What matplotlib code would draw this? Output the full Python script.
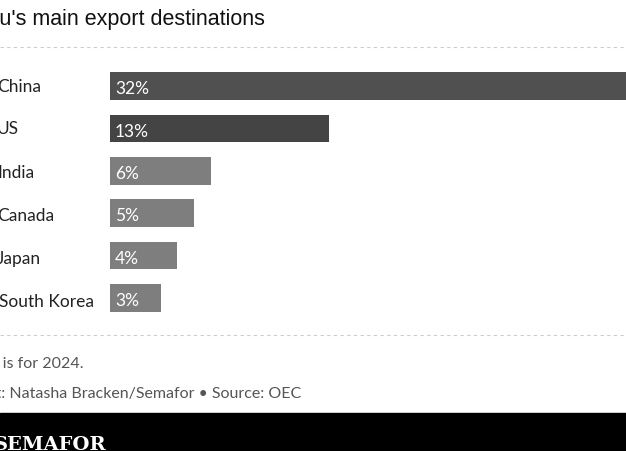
import matplotlib.pyplot as plt

countries = ["China", "US", "India", "Canada", "Japan", "South Korea"]
shares = [32, 13, 6, 5, 4, 3]
colors = ["#505050", "#444444", "#7e7e7e", "#7e7e7e", "#7e7e7e", "#7e7e7e"]

W, H = 626, 452
fig = plt.figure(figsize=(W / 100, H / 100), dpi=100)
fig.patch.set_facecolor("white")

def fx(px):
    return px / W

def fy(py):
    return 1 - py / H

# plot area in pixel coords: x 110..626, y 66..320
ax = fig.add_axes([fx(110), fy(320), fx(516), (320 - 66) / H])
ax.barh(range(len(shares)), shares, color=colors, height=0.66)
ax.set_xlim(0, 516 / 16.85)
ax.set_ylim(len(shares) - 0.5, -0.5)
ax.axis("off")
for i, v in enumerate(shares):
    ax.text(0.3, i + 0.05, f"{v}%", va="center", ha="left", color="white",
            fontsize=12.5, family="Lato")

row_y = [87, 129, 173, 216, 259, 302]
for name, y in zip(countries, row_y):
    fig.text(fx(-3 if name != "South Korea" else -1), fy(y), name, ha="left", va="center",
             fontsize=12.5, family="Lato", color="#222222")

# dashed separators
for y in [48, 336]:
    fig.add_artist(plt.Line2D([0, 1], [fy(y), fy(y)], color="#cccccc",
                              lw=0.8, ls=(0, (3, 3))))

fig.text(fx(-34), fy(20), "Peru's main export destinations", ha="left", va="center",
         fontsize=15.5, family="Liberation Sans", color="#111111")
fig.text(fx(-79), fy(364), "Note: Data is for 2024.", ha="left", va="center",
         fontsize=11.5, family="Lato", color="#555555")
fig.text(fx(-38), fy(394), "Chart: Natasha Bracken/Semafor • Source: OEC", ha="left",
         va="center", fontsize=11.5, family="Lato", color="#555555")

# footer band
fig.add_artist(plt.Rectangle((0, 0), 1, fy(414), color="black"))
fig.text(fx(-6), fy(445), "SEMAFOR", ha="left", va="center", fontsize=14,
         family="DejaVu Serif", fontweight="bold", color="white")

fig.savefig("out.png", dpi=100)
